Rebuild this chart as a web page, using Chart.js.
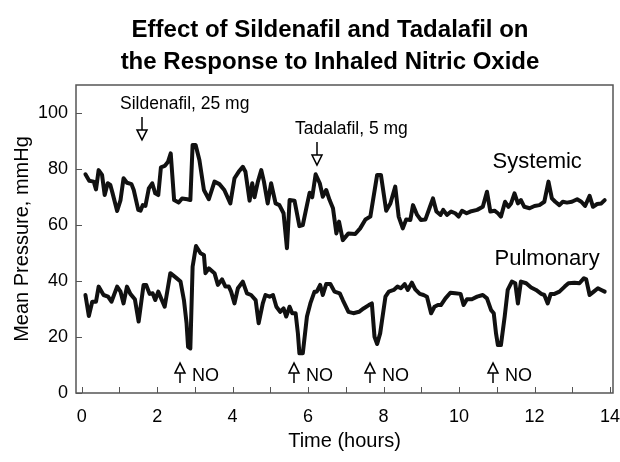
<!DOCTYPE html>
<html lang="en">
<head>
<meta charset="UTF-8">
<title>Effect of Sildenafil and Tadalafil on the Response to Inhaled Nitric Oxide</title>
<script src="https://cdn.jsdelivr.net/npm/chart.js"></script>
<style>
    * { margin: 0; padding: 0; box-sizing: border-box; }
    body { background: #fff; }
    .chart-container { position: relative; width: 620px; height: 462px; }
</style>
</head>
<body>
<div class="chart-container"><canvas id="noChart"></canvas></div>
<script>
    // Title text
    const titleLines = ['Effect of Sildenafil and Tadalafil on', 'the Response to Inhaled Nitric Oxide'];

    // Systemic mean pressure (hours, mmHg)
    const sysHours = [0.10, 0.20, 0.32, 0.38, 0.45, 0.54, 0.61, 0.69, 0.76, 0.82, 0.94, 1.03, 1.11, 1.20, 1.32, 1.38, 1.50, 1.56, 1.62, 1.69,
        1.78, 1.87, 1.95, 2.03, 2.10, 2.20, 2.29, 2.36, 2.45, 2.57, 2.66, 2.80, 2.88, 2.94, 3.02, 3.12, 3.24, 3.37, 3.52, 3.65,
        3.78, 3.94, 4.05, 4.16, 4.27, 4.34, 4.45, 4.52, 4.58, 4.67, 4.76, 4.83, 4.93, 5.02, 5.14, 5.24, 5.35, 5.44, 5.51, 5.64,
        5.77, 5.86, 5.98, 6.04, 6.11, 6.20, 6.31, 6.39, 6.48, 6.57, 6.66, 6.75, 6.82, 6.92, 7.07, 7.25, 7.38, 7.52, 7.65, 7.83,
        7.93, 8.07, 8.18, 8.31, 8.40, 8.51, 8.60, 8.71, 8.78, 8.89, 8.99, 9.11, 9.23, 9.31, 9.40, 9.51, 9.58, 9.68, 9.79, 9.90,
        9.99, 10.08, 10.20, 10.30, 10.48, 10.63, 10.74, 10.83, 10.94, 11.03, 11.11, 11.22, 11.31, 11.38, 11.47, 11.56, 11.64, 11.73, 11.87, 12.00,
        12.13, 12.26, 12.37, 12.46, 12.55, 12.66, 12.75, 12.86, 12.99, 13.13, 13.24, 13.34, 13.46, 13.55, 13.66, 13.77, 13.86];
    const sysPressure = [78.1, 75.8, 75.5, 72.7, 79.6, 77.9, 70.7, 74.9, 74.3, 71.3, 65.0, 68.9, 76.7, 75.1, 74.6, 72.5, 65.4, 65.1, 67.1, 66.8,
        73.1, 74.9, 71.3, 70.7, 80.6, 81.1, 82.6, 85.6, 68.9, 68.0, 69.5, 69.2, 68.9, 88.6, 88.6, 83.2, 72.5, 69.2, 75.5, 74.6,
        72.5, 67.7, 76.7, 79.0, 80.8, 79.0, 68.7, 74.9, 69.9, 75.5, 79.6, 75.5, 67.7, 74.9, 67.7, 67.1, 64.2, 51.7, 68.9, 68.7,
        59.6, 60.0, 67.7, 71.5, 69.9, 78.1, 74.9, 70.1, 72.5, 68.9, 66.0, 57.0, 61.2, 54.6, 57.0, 56.8, 58.8, 62.0, 63.0, 77.9,
        77.9, 65.1, 67.7, 73.7, 63.0, 58.8, 62.0, 61.8, 67.1, 63.6, 61.8, 62.0, 66.5, 69.5, 64.8, 63.6, 65.4, 63.6, 64.8, 64.2,
        63.0, 65.1, 64.2, 64.8, 65.4, 66.5, 71.9, 64.8, 65.1, 64.2, 63.0, 68.3, 66.5, 67.7, 71.3, 67.7, 68.9, 66.5, 66.0, 66.8,
        67.1, 68.3, 75.5, 69.5, 68.3, 67.1, 68.3, 68.0, 68.3, 69.2, 68.3, 66.8, 70.4, 66.5, 67.5, 67.7, 68.9];

    // Pulmonary mean pressure (hours, mmHg)
    const pulHours = [0.10, 0.19, 0.28, 0.38, 0.45, 0.58, 0.70, 0.79, 0.94, 1.03, 1.11, 1.20, 1.29, 1.41, 1.51, 1.64, 1.71, 1.80, 1.88, 1.95,
        2.03, 2.20, 2.35, 2.49, 2.62, 2.71, 2.78, 2.82, 2.88, 2.94, 3.03, 3.15, 3.24, 3.28, 3.37, 3.52, 3.61, 3.72, 3.81, 3.90,
        3.96, 4.05, 4.14, 4.27, 4.38, 4.49, 4.61, 4.69, 4.80, 4.87, 4.98, 5.07, 5.16, 5.26, 5.35, 5.42, 5.51, 5.58, 5.67, 5.73,
        5.77, 5.86, 5.97, 6.06, 6.17, 6.23, 6.32, 6.39, 6.48, 6.59, 6.70, 6.84, 6.92, 7.07, 7.20, 7.35, 7.47, 7.61, 7.69, 7.76,
        7.83, 7.91, 8.05, 8.14, 8.27, 8.37, 8.46, 8.56, 8.64, 8.75, 8.84, 8.96, 9.06, 9.15, 9.26, 9.35, 9.44, 9.52, 9.64, 9.77,
        9.90, 10.04, 10.12, 10.21, 10.34, 10.48, 10.63, 10.74, 10.85, 10.92, 10.98, 11.03, 11.11, 11.21, 11.29, 11.40, 11.49, 11.56, 11.64, 11.78,
        11.91, 12.04, 12.18, 12.26, 12.35, 12.43, 12.53, 12.66, 12.80, 12.90, 13.06, 13.19, 13.31, 13.37, 13.46, 13.57, 13.68, 13.77, 13.86];
    const pulPressure = [35.0, 27.5, 32.6, 32.6, 38.0, 35.0, 34.4, 32.6, 38.0, 36.2, 32.0, 38.0, 35.4, 33.5, 25.5, 38.6, 38.6, 35.4, 35.6, 33.2,
        36.2, 30.8, 42.8, 41.3, 39.8, 33.2, 24.9, 16.5, 15.9, 45.1, 52.5, 49.9, 49.3, 42.8, 44.5, 42.8, 38.6, 40.6, 38.0, 38.0,
        36.2, 32.0, 37.4, 39.8, 35.6, 35.0, 33.2, 24.9, 32.0, 35.0, 34.4, 35.0, 30.8, 29.0, 30.2, 27.3, 30.8, 28.5, 28.5, 21.3,
        14.2, 14.2, 27.3, 32.0, 36.2, 36.2, 38.6, 35.0, 38.9, 38.9, 36.2, 35.6, 33.2, 29.0, 28.5, 29.0, 30.2, 31.4, 32.0, 20.1,
        17.5, 21.3, 34.4, 36.2, 36.8, 38.0, 37.4, 38.9, 36.8, 39.4, 37.0, 35.4, 35.0, 34.4, 28.5, 30.8, 31.4, 31.4, 33.8, 35.8,
        35.6, 35.4, 31.4, 33.5, 33.5, 34.4, 35.0, 33.8, 29.6, 28.5, 21.3, 17.1, 17.1, 27.3, 36.8, 39.8, 39.2, 32.0, 39.8, 39.2,
        37.7, 36.8, 35.4, 35.0, 32.0, 35.4, 35.4, 36.2, 38.0, 39.2, 39.4, 39.2, 41.0, 40.6, 35.0, 36.2, 37.4, 36.8, 36.2];

    // Drug doses (time in hours) and NO inhalation times
    const doseLabels = ['Sildenafil, 25 mg', 'Tadalafil, 5 mg'];
    const doseHours = [1.61, 6.23];
    const noHours = [2.60, 5.62, 7.63, 10.89];

    const FONT = '"Liberation Sans", Arial, Helvetica, sans-serif';
    Chart.defaults.font.family = FONT;
    Chart.defaults.color = '#000';

    // hollow-headed arrow, dir 1 = pointing down, -1 = pointing up
    function drawArrow(ctx, px, tipY, tailY, dir) {
        const head = 10;
        ctx.beginPath();
        ctx.moveTo(px, tailY);
        ctx.lineTo(px, tipY - dir * head);
        ctx.stroke();
        ctx.beginPath();
        ctx.moveTo(px, tipY);
        ctx.lineTo(px - 5, tipY - dir * head);
        ctx.lineTo(px + 5, tipY - dir * head);
        ctx.closePath();
        ctx.fillStyle = '#fff';
        ctx.fill();
        ctx.stroke();
    }

    const figureText = {
        id: 'figureText',
        afterDraw(chart) {
            const { ctx, chartArea: a, scales: { x, y } } = chart;
            ctx.save();

            // frame and inward tick marks
            ctx.strokeStyle = '#555';
            ctx.lineWidth = 1.5;
            ctx.strokeRect(a.left, a.top, a.right - a.left, a.bottom - a.top);
            ctx.lineWidth = 1;
            ctx.beginPath();
            x.ticks.forEach(t => {
                const px = Math.round(x.getPixelForValue(t.value)) + 0.5;
                ctx.moveTo(px, a.bottom);
                ctx.lineTo(px, a.bottom - 6);
            });
            y.ticks.forEach(t => {
                const py = Math.round(y.getPixelForValue(t.value)) + 0.5;
                ctx.moveTo(a.left, py);
                ctx.lineTo(a.left + 6, py);
            });
            ctx.stroke();

            // title
            ctx.fillStyle = '#000';
            ctx.textAlign = 'center';
            ctx.textBaseline = 'middle';
            ctx.font = 'bold 24px ' + FONT;
            titleLines.forEach((t, i) => ctx.fillText(t, 330, 30 + i * 32));

            // series labels
            ctx.textAlign = 'left';
            ctx.font = '22px ' + FONT;
            ctx.fillText('Systemic', x.getPixelForValue(10.89), y.getPixelForValue(82.7));
            ctx.fillText('Pulmonary', x.getPixelForValue(10.94), y.getPixelForValue(47.9));

            // dose arrows
            ctx.strokeStyle = '#000';
            ctx.lineWidth = 1.5;
            ctx.font = '17.5px ' + FONT;
            const doseTip = [90.4, 81.4];
            doseHours.forEach((h, i) => {
                const px = Math.round(x.getPixelForValue(h));
                const tip = y.getPixelForValue(doseTip[i]);
                drawArrow(ctx, px, tip, tip - 23, 1);
                ctx.fillStyle = '#000';
                ctx.fillText(doseLabels[i], px - 22, tip - 36);
            });

            // NO arrows
            ctx.font = '18px ' + FONT;
            noHours.forEach(h => {
                const px = Math.round(x.getPixelForValue(h));
                const tip = y.getPixelForValue(10.7);
                drawArrow(ctx, px, tip, tip + 20, -1);
                ctx.fillStyle = '#000';
                ctx.fillText('NO', px + 12, y.getPixelForValue(6.1));
            });

            ctx.restore();
        }
    };

    const lineStyle = {
        borderColor: '#111',
        borderWidth: 4,
        pointRadius: 0,
        tension: 0,
        fill: false,
        borderJoinStyle: 'round',
        borderCapStyle: 'round'
    };

    new Chart(document.getElementById('noChart'), {
        type: 'line',
        data: {
            datasets: [{
                label: 'Systemic',
                data: sysHours.map((h, i) => ({ x: h, y: sysPressure[i] })),
                ...lineStyle
            }, {
                label: 'Pulmonary',
                data: pulHours.map((h, i) => ({ x: h, y: pulPressure[i] })),
                ...lineStyle
            }]
        },
        options: {
            responsive: true,
            maintainAspectRatio: false,
            animation: false,
            layout: { padding: { top: 85, right: 7, left: 0, bottom: 0 } },
            plugins: {
                legend: { display: false },
                tooltip: { enabled: false },
                title: { display: false }
            },
            scales: {
                x: {
                    type: 'linear',
                    min: -0.15,
                    max: 14.08,
                    afterFit: s => {
                        s.height = 69;
                        s.paddingLeft = 0;
                        s.paddingRight = 0;
                    },
                    ticks: {
                        stepSize: 1,
                        autoSkip: false,
                        includeBounds: false,
                        maxRotation: 0,
                        padding: 13,
                        font: { size: 18 },
                        callback: v => (v % 2 === 0 ? v : '')
                    },
                    grid: { drawOnChartArea: false, drawTicks: false },
                    border: { display: false },
                    title: {
                        display: true,
                        text: 'Time (hours)',
                        font: { size: 20 },
                        padding: { top: 0, bottom: 9 }
                    }
                },
                y: {
                    min: 0,
                    max: 110,
                    afterFit: s => {
                        s.width = 76;
                        s.paddingTop = 0;
                        s.paddingBottom = 0;
                    },
                    ticks: {
                        stepSize: 20,
                        includeBounds: false,
                        padding: 8,
                        font: { size: 18 }
                    },
                    grid: { drawOnChartArea: false, drawTicks: false },
                    border: { display: false },
                    title: {
                        display: true,
                        text: 'Mean Pressure, mmHg',
                        font: { size: 20 },
                        padding: { top: 10, bottom: 0 }
                    }
                }
            }
        },
        plugins: [figureText]
    });
</script>
</body>
</html>
